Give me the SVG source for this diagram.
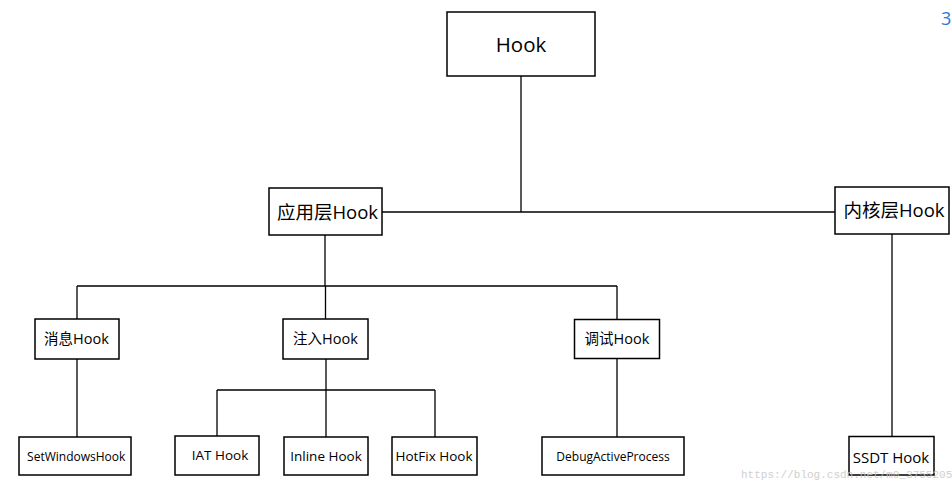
<svg xmlns="http://www.w3.org/2000/svg" width="952" height="491" viewBox="0 0 952 491">
<style>
.box{fill:#fff;stroke:#000;stroke-width:1.5}
.t{font-family:"Open Sans","Noto Sans","Noto Sans CJK SC",sans-serif;fill:#000;text-anchor:middle}
#connectors path{fill:none;stroke:#000;stroke-width:1.3}
</style>
<rect width="952" height="491" fill="#fff"/>
<g id="connectors">
<path d="M521 76V212"/>
<path d="M382 212H835"/>
<path d="M325 235V286"/>
<path d="M77 286H617"/>
<path d="M77 286V319"/>
<path d="M325.5 286V319"/>
<path d="M617 286V319"/>
<path d="M77 359V437"/>
<path d="M326 359V437"/>
<path d="M217 390H435"/>
<path d="M217 390V436"/>
<path d="M435 390V437"/>
<path d="M617 359V437"/>
<path d="M892 234V436"/>
</g>
<g id="hook"><rect class="box" x="447" y="12" width="148" height="64"/><text class="t" x="521" y="52" font-size="20.5">Hook</text></g>
<g id="app"><rect class="box" x="269" y="188" width="113" height="47"/><text class="t" x="327.5" y="218.5" font-size="18.5">应用层Hook</text></g>
<g id="kernel"><rect class="box" x="835" y="187" width="114" height="47"/><text class="t" x="894" y="217" font-size="18.5">内核层Hook</text></g>
<g id="msg"><rect class="box" x="35" y="319" width="84" height="40"/><text class="t" x="76.5" y="344" font-size="14.5">消息Hook</text></g>
<g id="inject"><rect class="box" x="283" y="319" width="85" height="40"/><text class="t" x="325.5" y="344" font-size="14.5">注入Hook</text></g>
<g id="debug"><rect class="box" x="574.5" y="319.5" width="85" height="39"/><text class="t" x="617" y="344" font-size="14.5">调试Hook</text></g>
<g id="setwin"><rect class="box" x="19" y="437" width="112" height="38"/><text class="t" x="76.2" y="461" font-size="12">SetWindowsHook</text></g>
<g id="iat"><rect class="box" x="175" y="436" width="84" height="39"/><text class="t" x="220" y="460" font-size="13.5">IAT Hook</text></g>
<g id="inline"><rect class="box" x="284" y="437" width="84" height="38"/><text class="t" x="326" y="461" font-size="13.5">Inline Hook</text></g>
<g id="hotfix"><rect class="box" x="392" y="437" width="85" height="38"/><text class="t" x="434" y="461" font-size="13.5">HotFix Hook</text></g>
<g id="dap"><rect class="box" x="542" y="437" width="142" height="38"/><text class="t" x="613" y="461" font-size="12">DebugActiveProcess</text></g>
<g id="ssdt"><rect class="box" x="849" y="436.5" width="85" height="38.5"/><text class="t" x="891" y="462.5" font-size="15">SSDT Hook</text></g>
<text x="741" y="478" font-family="Liberation Mono,monospace" font-size="11" fill="#c8c8c8" opacity="0.85">https://blog.csdn.net/m0_37552052</text>
<text x="941" y="25" font-family="Open Sans,sans-serif" font-size="18" fill="#2a7ad6">3</text>
</svg>
